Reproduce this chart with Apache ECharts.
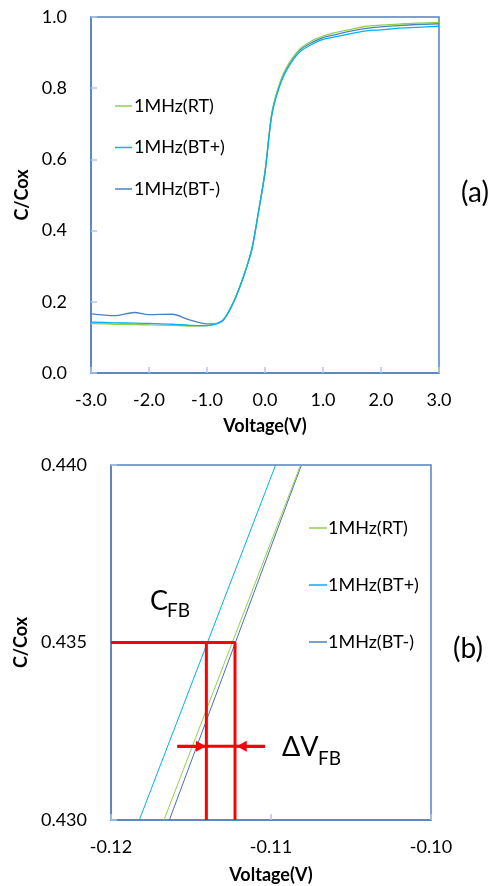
<!DOCTYPE html>
<html>
<head>
<meta charset="utf-8">
<title>C-V</title>
<script src="https://cdn.jsdelivr.net/npm/echarts@6/dist/echarts.min.js"></script>
<style>
  html, body { margin: 0; padding: 0; background: #fff; }
  #chart { width: 499px; height: 886px; }
</style>
</head>
<body>
<div id="chart"></div>
<script>
// (a) full sweep
const voltA = [-3.0, -2.6, -2.25, -2.0, -1.6, -1.3, -1.0, -0.86, -0.72, -0.6, -0.5, -0.37, -0.23, -0.115, 0.0, 0.115, 0.23, 0.37, 0.6, 0.83, 1.0, 1.2, 1.5, 1.75, 2.0, 2.3, 2.6, 3.0]
const rtA    = [0.139, 0.137, 0.136, 0.135, 0.134, 0.132, 0.133, 0.137, 0.149, 0.180, 0.215, 0.271, 0.346, 0.450, 0.565, 0.727, 0.802, 0.858, 0.910, 0.935, 0.946, 0.956, 0.966, 0.974, 0.977, 0.980, 0.983, 0.985]
const btpA   = [0.143, 0.141, 0.140, 0.139, 0.137, 0.134, 0.133, 0.137, 0.149, 0.180, 0.215, 0.271, 0.345, 0.450, 0.563, 0.722, 0.795, 0.850, 0.902, 0.925, 0.937, 0.944, 0.954, 0.961, 0.964, 0.969, 0.971, 0.974]
const btmA   = [0.166, 0.161, 0.170, 0.164, 0.165, 0.149, 0.138, 0.138, 0.149, 0.180, 0.215, 0.271, 0.346, 0.450, 0.565, 0.725, 0.800, 0.855, 0.907, 0.930, 0.942, 0.950, 0.961, 0.968, 0.972, 0.976, 0.979, 0.981]

// (b) close-up around flat band
const voltRtB  = [-0.11669, -0.10815]
const voltBtpB = [-0.11823, -0.10971]
const voltBtmB = [-0.11635, -0.10810]
const capB     = [0.430, 0.440]

// flat band guide lines (red)
const cfb = 0.435
const vfbBtp = -0.11404
const vfbRt = -0.11225
const arrowC = 0.43208
const arrowLeft = [-0.11585, -0.11438]
const arrowRight = [-0.11038, -0.11183]

const names = ['1MHz(RT)', '1MHz(BT+)', '1MHz(BT-)']
const colors = ['#92d050', '#00b0f0', '#4f81bd']

const font = 'Lato, "Open Sans", sans-serif'
const axisBlue = '#5580bf'
const tickBlue = '#b3c6e6'

function pairs(xs, ys) {
  return xs.map((x, i) => [x, ys[i]])
}

const chart = echarts.init(document.getElementById('chart'))

const baseAxis = {
  axisLine: { show: true, onZero: false, lineStyle: { color: axisBlue, width: 1.5 } },
  axisTick: { show: true, inside: true, length: 6, lineStyle: { color: tickBlue, width: 1.5 } },
  splitLine: { show: false },
  axisLabel: { color: '#000', fontFamily: font, fontSize: 18 },
  nameTextStyle: { color: '#000', fontFamily: font, fontSize: 18, fontWeight: 'bold' }
}

const red = { color: '#ff0000', width: 3 }

const option = {
  animation: false,
  textStyle: { fontFamily: font },
  grid: [
    { left: 91, top: 17, width: 348, height: 356, show: true, borderColor: axisBlue, borderWidth: 1.5 },
    { left: 111, top: 465, width: 320, height: 355, show: true, borderColor: axisBlue, borderWidth: 1.5 }
  ],
  xAxis: [
    Object.assign({}, baseAxis, {
      type: 'value', gridIndex: 0, min: -3, max: 3, interval: 1,
      name: 'Voltage(V)', nameLocation: 'middle', nameGap: 44,
      axisLabel: Object.assign({}, baseAxis.axisLabel, { margin: 18, formatter: v => v.toFixed(1) })
    }),
    Object.assign({}, baseAxis, {
      type: 'value', gridIndex: 1, min: -0.12, max: -0.10, interval: 0.01,
      name: 'Voltage(V)', nameLocation: 'middle', nameGap: 46,
      axisLabel: Object.assign({}, baseAxis.axisLabel, { margin: 18, formatter: v => v.toFixed(2) })
    })
  ],
  yAxis: [
    Object.assign({}, baseAxis, {
      type: 'value', gridIndex: 0, min: 0, max: 1, interval: 0.2,
      name: 'C/Cox', nameLocation: 'middle', nameGap: 57,
      axisLabel: Object.assign({}, baseAxis.axisLabel, { margin: 24, formatter: v => v.toFixed(1) })
    }),
    Object.assign({}, baseAxis, {
      type: 'value', gridIndex: 1, min: 0.430, max: 0.440, interval: 0.005,
      name: 'C/Cox', nameLocation: 'middle', nameGap: 77,
      axisLabel: Object.assign({}, baseAxis.axisLabel, { margin: 24, formatter: v => v.toFixed(3) })
    })
  ],
  legend: [
    {
      data: names, orient: 'vertical', left: 115, top: 96, padding: 0,
      icon: 'rect', itemWidth: 17, itemHeight: 1.5, itemGap: 21.5,
      textStyle: { color: '#000', fontFamily: font, fontSize: 18, lineHeight: 20, padding: [0, 0, 0, -3] }
    },
    {
      data: names, orient: 'vertical', left: 309, top: 518, padding: 0,
      icon: 'rect', itemWidth: 18, itemHeight: 1.5, itemGap: 37,
      textStyle: { color: '#000', fontFamily: font, fontSize: 18, lineHeight: 20, padding: [0, 0, 0, -4] }
    }
  ],
  series: [
    // (a)
    { name: names[0], type: 'line', xAxisIndex: 0, yAxisIndex: 0, data: pairs(voltA, rtA), smooth: 0.3, showSymbol: false, symbol: 'none', color: colors[0], lineStyle: { width: 1.3 }, z: 3 },
    { name: names[1], type: 'line', xAxisIndex: 0, yAxisIndex: 0, data: pairs(voltA, btpA), smooth: 0.3, showSymbol: false, symbol: 'none', color: colors[1], lineStyle: { width: 1.3 }, z: 4 },
    { name: names[2], type: 'line', xAxisIndex: 0, yAxisIndex: 0, data: pairs(voltA, btmA), smooth: 0.3, showSymbol: false, symbol: 'none', color: colors[2], lineStyle: { width: 1.3 }, z: 2 },
    // (b)
    { name: names[0], type: 'line', xAxisIndex: 1, yAxisIndex: 1, data: pairs(voltRtB, capB), showSymbol: false, symbol: 'none', color: colors[0], lineStyle: { width: 1 }, z: 3 },
    { name: names[1], type: 'line', xAxisIndex: 1, yAxisIndex: 1, data: pairs(voltBtpB, capB), showSymbol: false, symbol: 'none', color: colors[1], lineStyle: { width: 1 }, z: 3 },
    { name: names[2], type: 'line', xAxisIndex: 1, yAxisIndex: 1, data: pairs(voltBtmB, capB), showSymbol: false, symbol: 'none', color: '#4670c0', lineStyle: { width: 1 }, z: 2 },
    // red guides
    { name: 'guide1', type: 'line', xAxisIndex: 1, yAxisIndex: 1, data: [[-0.12, cfb], [vfbRt, cfb], [vfbRt, 0.430]], showSymbol: false, symbol: 'none', lineStyle: red, color: '#ff0000', z: 5 },
    { name: 'guide2', type: 'line', xAxisIndex: 1, yAxisIndex: 1, data: [[vfbBtp, cfb], [vfbBtp, 0.430]], showSymbol: false, symbol: 'none', lineStyle: red, color: '#ff0000', z: 5 },
    {
      name: 'dvfb', type: 'line', xAxisIndex: 1, yAxisIndex: 1, data: [[arrowLeft[0], arrowC], [arrowRight[0], arrowC]],
      showSymbol: false, symbol: 'none', lineStyle: red, color: '#ff0000', z: 5,
      markLine: {
        silent: true, symbol: ['none', 'triangle'], symbolSize: [11, 10],
        lineStyle: { color: '#ff0000', width: 3, type: 'solid' }, label: { show: false },
        data: [
          [{ coord: [arrowLeft[0], arrowC] }, { coord: [arrowLeft[1], arrowC] }],
          [{ coord: [arrowRight[0], arrowC] }, { coord: [arrowRight[1], arrowC] }]
        ]
      }
    }
  ],
  graphic: [
    { type: 'text', x: 475, y: 193, style: { text: '(a)', fill: '#000', font: '28px ' + font, align: 'center', verticalAlign: 'middle' } },
    { type: 'text', x: 468, y: 649, style: { text: '(b)', fill: '#000', font: '28px ' + font, align: 'center', verticalAlign: 'middle' } },
    { type: 'text', x: 150, y: 601, style: { text: 'C', fill: '#000', font: '27px ' + font, align: 'left', verticalAlign: 'middle' } },
    { type: 'text', x: 167, y: 611, style: { text: 'FB', fill: '#000', font: '19px ' + font, align: 'left', verticalAlign: 'middle' } },
    { type: 'text', x: 282, y: 747, style: { text: 'ΔV', fill: '#000', font: '27px ' + font, align: 'left', verticalAlign: 'middle' } },
    { type: 'text', x: 318, y: 759, style: { text: 'FB', fill: '#000', font: '19px ' + font, align: 'left', verticalAlign: 'middle' } }
  ]
}

chart.setOption(option)
</script>
</body>
</html>
